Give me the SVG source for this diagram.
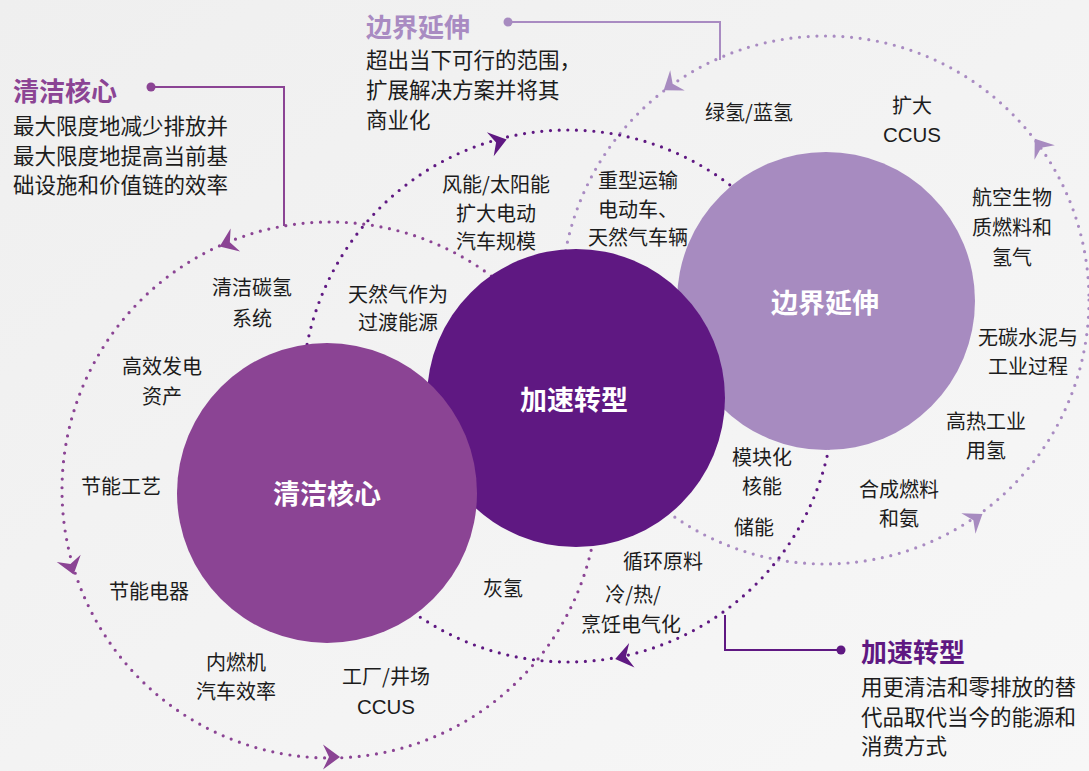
<svg xmlns="http://www.w3.org/2000/svg" width="1089" height="771" viewBox="0 0 1089 771">
<defs>
<linearGradient id="bg" x1="0" y1="0" x2="1" y2="1">
<stop offset="0" stop-color="#efefef"/>
<stop offset="1" stop-color="#f7f7f7"/>
</linearGradient>
<path id="arr" d="M9,0 L-8,-12.5 L-2,0 L-8,12.5 Z"/>
</defs>
<style>
text{font-family:"Noto Sans CJK SC","Noto Sans",sans-serif;}
.lbl{font-size:20px;fill:#1c1c1c;text-anchor:middle;}
.lat{font-family:"Liberation Sans","Noto Sans CJK SC",sans-serif;font-size:20.5px;}
.body{font-size:21.5px;fill:#1c1c1c;}
.ttl{font-size:26px;font-weight:bold;}
.ntl{font-size:27px;font-weight:bold;fill:#ffffff;text-anchor:middle;}
.dot{fill:none;stroke-width:3.2;stroke-dasharray:0 8.7;stroke-linecap:round;}
.call{fill:none;stroke-width:2;}
.c1{stroke:#8b4494;}
.c2{stroke:#5f1882;}
.c3{stroke:#a98bc2;}
.f1{fill:#8b4494;}
.f2{fill:#5f1882;}
.f3{fill:#a78bc0;}
</style>
<rect x="0" y="0" width="1089" height="771" fill="url(#bg)"/>

<g id="connectors">
<circle class="dot c3" cx="825" cy="300" r="264"/>
<circle class="dot c2" cx="568" cy="396" r="266"/>
<circle class="dot c1" cx="330" cy="490" r="268"/>
<use href="#arr" class="f1" transform="translate(228,243) rotate(157.6)"/>
<use href="#arr" class="f1" transform="translate(71,566) rotate(73.4)"/>
<use href="#arr" class="f1" transform="translate(331,757) rotate(0)"/>
<use href="#arr" class="f2" transform="translate(498,142) rotate(-15.8)"/>
<use href="#arr" class="f2" transform="translate(624,657) rotate(167.7)"/>
<use href="#arr" class="f3" transform="translate(671,85) rotate(144.3)"/>
<use href="#arr" class="f3" transform="translate(1040,146) rotate(-125.6)"/>
<use href="#arr" class="f3" transform="translate(975,519) rotate(-34.4)"/>
<path class="call c1" d="M151,87 H284 V226"/>
<circle class="f1" cx="151" cy="87" r="4.5"/>
<path class="call c3" d="M508,22 H720 V60"/>
<circle class="f3" cx="508" cy="22" r="4.5"/>
<path class="call c2" d="M841,650 H725 V615"/>
<circle class="f2" cx="841" cy="650" r="4.5"/>
</g>

<g id="node-boundary">
<circle class="f3" cx="826" cy="301" r="149"/>
<text class="ntl" x="825" y="313">边界延伸</text>
</g>
<g id="node-accelerate">
<circle class="f2" cx="576" cy="398" r="149"/>
<text class="ntl" x="574" y="410">加速转型</text>
</g>
<g id="node-clean">
<circle class="f1" cx="327" cy="493" r="150"/>
<text class="ntl" x="327" y="504">清洁核心</text>
</g>

<g id="callout-clean">
<text class="ttl" x="13" y="101" fill="#8b4494">清洁核心</text>
<text class="body" x="13" y="134">最大限度地减少排放并</text>
<text class="body" x="13" y="164">最大限度地提高当前基</text>
<text class="body" x="13" y="193">础设施和价值链的效率</text>
</g>
<g id="callout-boundary">
<text class="ttl" x="366" y="37" fill="#a98bc2">边界延伸</text>
<text class="body" x="366" y="68">超出当下可行的范围，</text>
<text class="body" x="366" y="98">扩展解决方案并将其</text>
<text class="body" x="366" y="128">商业化</text>
</g>
<g id="callout-accelerate">
<text class="ttl" x="861" y="662" fill="#5f1882">加速转型</text>
<text class="body" x="861" y="695">用更清洁和零排放的替</text>
<text class="body" x="861" y="725">代品取代当今的能源和</text>
<text class="body" x="861" y="754">消费方式</text>
</g>

<g id="labels">
<text class="lbl" x="749" y="119.5">绿氢/蓝氢</text>
<text class="lbl" x="912" y="112.5">扩大</text>
<text class="lbl lat" x="912" y="141.5">CCUS</text>
<text class="lbl" x="638" y="187.5">重型运输</text>
<text class="lbl" x="638" y="216.5">电动车、</text>
<text class="lbl" x="638" y="245">天然气车辆</text>
<text class="lbl" x="496" y="191.5">风能/太阳能</text>
<text class="lbl" x="496" y="220.5">扩大电动</text>
<text class="lbl" x="496" y="249">汽车规模</text>
<text class="lbl" x="398" y="301.5">天然气作为</text>
<text class="lbl" x="398" y="330">过渡能源</text>
<text class="lbl" x="252" y="295">清洁碳氢</text>
<text class="lbl" x="252" y="325.5">系统</text>
<text class="lbl" x="162" y="373.5">高效发电</text>
<text class="lbl" x="162" y="403.5">资产</text>
<text class="lbl" x="121" y="493.5">节能工艺</text>
<text class="lbl" x="149" y="598.5">节能电器</text>
<text class="lbl" x="236" y="670">内燃机</text>
<text class="lbl" x="236" y="698.5">汽车效率</text>
<text class="lbl" x="386" y="684">工厂/井场</text>
<text class="lbl lat" x="386" y="713.5">CCUS</text>
<text class="lbl" x="503" y="595.5">灰氢</text>
<text class="lbl" x="663" y="568.5">循环原料</text>
<text class="lbl" x="633" y="601.5">冷/热/</text>
<text class="lbl" x="631" y="631.5">烹饪电气化</text>
<text class="lbl" x="754" y="535">储能</text>
<text class="lbl" x="762" y="465">模块化</text>
<text class="lbl" x="762" y="493.5">核能</text>
<text class="lbl" x="1012" y="205">航空生物</text>
<text class="lbl" x="1012" y="235">质燃料和</text>
<text class="lbl" x="1012" y="265">氢气</text>
<text class="lbl" x="1028" y="345">无碳水泥与</text>
<text class="lbl" x="1028" y="373.5">工业过程</text>
<text class="lbl" x="986" y="429">高热工业</text>
<text class="lbl" x="986" y="457.5">用氢</text>
<text class="lbl" x="899" y="496.5">合成燃料</text>
<text class="lbl" x="899" y="525.5">和氨</text>
</g>
</svg>
